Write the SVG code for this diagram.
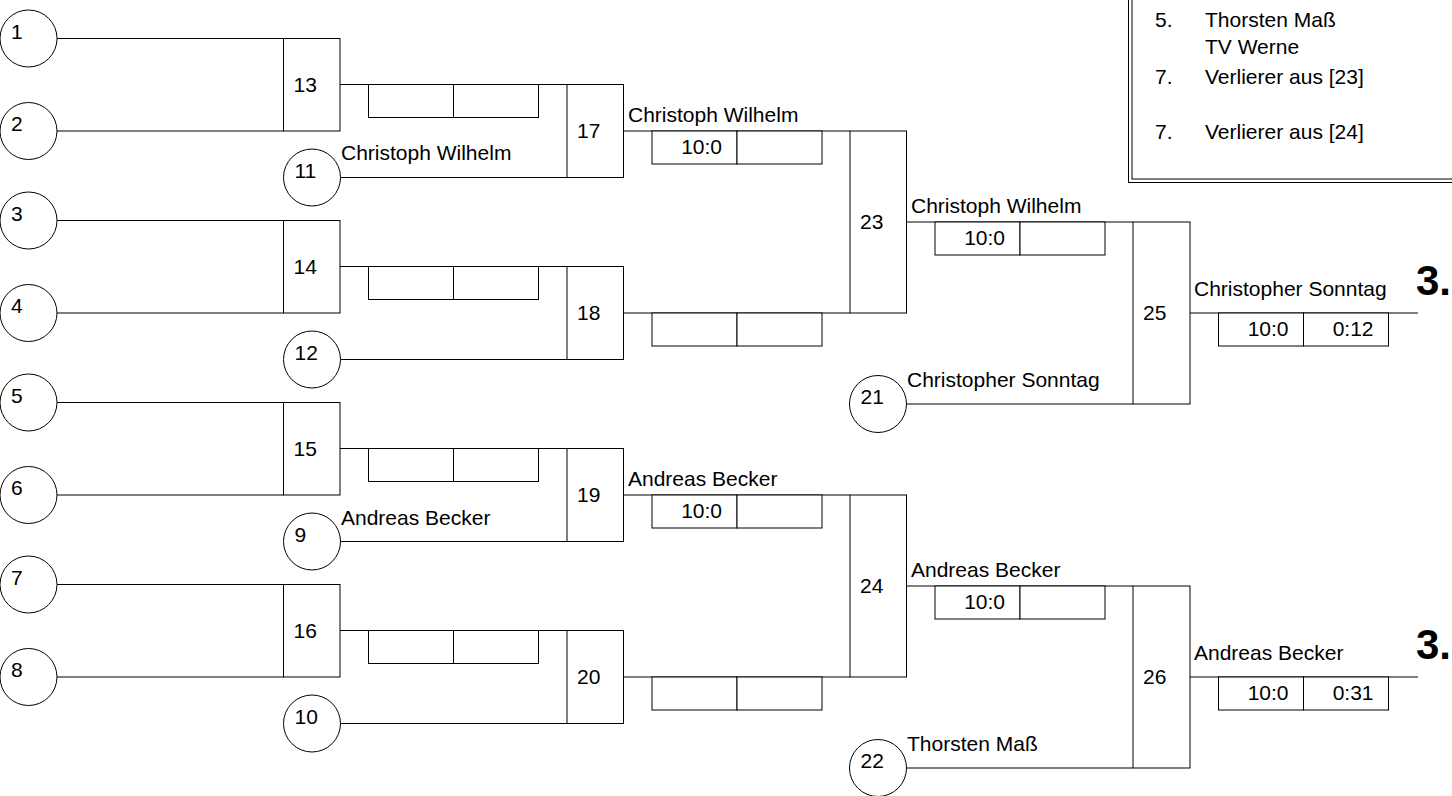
<svg xmlns="http://www.w3.org/2000/svg" width="1452" height="796" viewBox="0 0 1452 796">
<style>
  .ln { fill: none; stroke: #000; stroke-width: 1; }
  .bx { fill: #fff; stroke: #000; stroke-width: 1; }
  .cr { fill: #fff; stroke: #000; stroke-width: 1; }
  text { font-family: "Liberation Sans", Arial, sans-serif; font-size: 21px; fill: #000; }
  .sc { text-anchor: end; }
  .big { font-size: 42px; font-weight: bold; }
</style>
<rect width="1452" height="796" fill="#fff"/>

<g id="connectors">
  <path class="ln" d="M57 38.5H283.5 M57 131H283.5 M57 220.5H283.5 M57 313H283.5 M57 402.5H283.5 M57 495H283.5 M57 584.5H283.5 M57 677H283.5"/>
  <path class="ln" d="M340 84.5H567 M340 266.5H567 M340 448.5H567 M340 630.5H567"/>
  <path class="ln" d="M340.5 177.5H567 M340.5 359.5H567 M340.5 541.5H567 M340.5 723.5H567"/>
  <path class="ln" d="M623.5 131H850 M623.5 313H850 M623.5 495H850 M623.5 677H850"/>
  <path class="ln" d="M906.5 222H1133 M906.5 586H1133"/>
  <path class="ln" d="M906.5 404H1133 M906.5 768H1133"/>
  <path class="ln" d="M1190 313H1418 M1190 677H1418"/>
</g>

<g id="c1"><circle class="cr" cx="28.5" cy="38.5" r="28.5"/><text x="11" y="38.5">1</text></g>
<g id="c2"><circle class="cr" cx="28.5" cy="131" r="28.5"/><text x="11" y="131">2</text></g>
<g id="c3"><circle class="cr" cx="28.5" cy="220.5" r="28.5"/><text x="11" y="220.5">3</text></g>
<g id="c4"><circle class="cr" cx="28.5" cy="313" r="28.5"/><text x="11" y="313">4</text></g>
<g id="c5"><circle class="cr" cx="28.5" cy="402.5" r="28.5"/><text x="11" y="402.5">5</text></g>
<g id="c6"><circle class="cr" cx="28.5" cy="495" r="28.5"/><text x="11" y="495">6</text></g>
<g id="c7"><circle class="cr" cx="28.5" cy="584.5" r="28.5"/><text x="11" y="584.5">7</text></g>
<g id="c8"><circle class="cr" cx="28.5" cy="677" r="28.5"/><text x="11" y="677">8</text></g>

<g id="c11"><circle class="cr" cx="312" cy="177.5" r="28.5"/><text x="294.5" y="177.5">11</text></g>
<g id="c12"><circle class="cr" cx="312" cy="359.5" r="28.5"/><text x="294.5" y="359.5">12</text></g>
<g id="c9"><circle class="cr" cx="312" cy="541.5" r="28.5"/><text x="294.5" y="541.5">9</text></g>
<g id="c10"><circle class="cr" cx="312" cy="723.5" r="28.5"/><text x="294.5" y="723.5">10</text></g>
<g id="c21"><circle class="cr" cx="878" cy="404" r="28.5"/><text x="860.5" y="404">21</text></g>
<g id="c22"><circle class="cr" cx="878" cy="768" r="28.5"/><text x="860.5" y="768">22</text></g>

<g id="m13"><rect class="bx" x="283.5" y="38.5" width="56.5" height="92.5"/><text x="293.5" y="91.5">13</text></g>
<g id="m14"><rect class="bx" x="283.5" y="220.5" width="56.5" height="92.5"/><text x="293.5" y="273.5">14</text></g>
<g id="m15"><rect class="bx" x="283.5" y="402.5" width="56.5" height="92.5"/><text x="293.5" y="455.5">15</text></g>
<g id="m16"><rect class="bx" x="283.5" y="584.5" width="56.5" height="92.5"/><text x="293.5" y="637.5">16</text></g>

<g id="m17"><rect class="bx" x="567" y="84.5" width="56.5" height="93"/><text x="577" y="138">17</text></g>
<g id="m18"><rect class="bx" x="567" y="266.5" width="56.5" height="93"/><text x="577" y="320">18</text></g>
<g id="m19"><rect class="bx" x="567" y="448.5" width="56.5" height="93"/><text x="577" y="502">19</text></g>
<g id="m20"><rect class="bx" x="567" y="630.5" width="56.5" height="93"/><text x="577" y="684">20</text></g>

<g id="m23"><rect class="bx" x="850" y="131" width="56.5" height="182"/><text x="860" y="229">23</text></g>
<g id="m24"><rect class="bx" x="850" y="495" width="56.5" height="182"/><text x="860" y="593">24</text></g>

<g id="m25"><rect class="bx" x="1133" y="222" width="57" height="182"/><text x="1143" y="320">25</text></g>
<g id="m26"><rect class="bx" x="1133" y="586" width="57" height="182"/><text x="1143" y="684">26</text></g>

<g id="scores-r2">
  <rect class="bx" x="368.5" y="84.5" width="85" height="33"/><rect class="bx" x="453.5" y="84.5" width="85" height="33"/>
  <rect class="bx" x="368.5" y="266.5" width="85" height="33"/><rect class="bx" x="453.5" y="266.5" width="85" height="33"/>
  <rect class="bx" x="368.5" y="448.5" width="85" height="33"/><rect class="bx" x="453.5" y="448.5" width="85" height="33"/>
  <rect class="bx" x="368.5" y="630.5" width="85" height="33"/><rect class="bx" x="453.5" y="630.5" width="85" height="33"/>
</g>
<g id="scores-r3">
  <rect class="bx" x="652" y="131" width="85" height="33"/><rect class="bx" x="737" y="131" width="85" height="33"/>
  <text class="sc" x="722" y="154">10:0</text>
  <rect class="bx" x="652" y="313" width="85" height="33"/><rect class="bx" x="737" y="313" width="85" height="33"/>
  <rect class="bx" x="652" y="495" width="85" height="33"/><rect class="bx" x="737" y="495" width="85" height="33"/>
  <text class="sc" x="722" y="518">10:0</text>
  <rect class="bx" x="652" y="677" width="85" height="33"/><rect class="bx" x="737" y="677" width="85" height="33"/>
</g>
<g id="scores-r4">
  <rect class="bx" x="935" y="222" width="85" height="33"/><rect class="bx" x="1020" y="222" width="85" height="33"/>
  <text class="sc" x="1005" y="245">10:0</text>
  <rect class="bx" x="935" y="586" width="85" height="33"/><rect class="bx" x="1020" y="586" width="85" height="33"/>
  <text class="sc" x="1005" y="609">10:0</text>
</g>
<g id="scores-final">
  <rect class="bx" x="1218.5" y="313" width="85" height="33"/><rect class="bx" x="1303.5" y="313" width="85" height="33"/>
  <text class="sc" x="1288.5" y="336">10:0</text><text class="sc" x="1373.5" y="336">0:12</text>
  <rect class="bx" x="1218.5" y="677" width="85" height="33"/><rect class="bx" x="1303.5" y="677" width="85" height="33"/>
  <text class="sc" x="1288.5" y="700">10:0</text><text class="sc" x="1373.5" y="700">0:31</text>
</g>

<g id="names">
  <text x="341" y="160">Christoph Wilhelm</text>
  <text x="341" y="524.5">Andreas Becker</text>
  <text x="628" y="122">Christoph Wilhelm</text>
  <text x="628" y="486">Andreas Becker</text>
  <text x="911" y="213">Christoph Wilhelm</text>
  <text x="911" y="577">Andreas Becker</text>
  <text x="907" y="387">Christopher Sonntag</text>
  <text x="907" y="751">Thorsten Maß</text>
  <text x="1194" y="296">Christopher Sonntag</text>
  <text x="1194" y="660">Andreas Becker</text>
</g>

<g id="places">
  <text class="big" x="1416" y="295">3.</text>
  <text class="big" x="1416" y="659">3.</text>
</g>

<g id="legend">
  <rect class="ln" x="1128.5" y="-10" width="340" height="192.5"/>
  <rect class="ln" x="1132" y="-10" width="340" height="189"/>
  <text x="1155" y="27">5.</text><text x="1205" y="27">Thorsten Maß</text>
  <text x="1205" y="54">TV Werne</text>
  <text x="1155" y="84">7.</text><text x="1205" y="84">Verlierer aus [23]</text>
  <text x="1155" y="139">7.</text><text x="1205" y="139">Verlierer aus [24]</text>
</g>
</svg>
